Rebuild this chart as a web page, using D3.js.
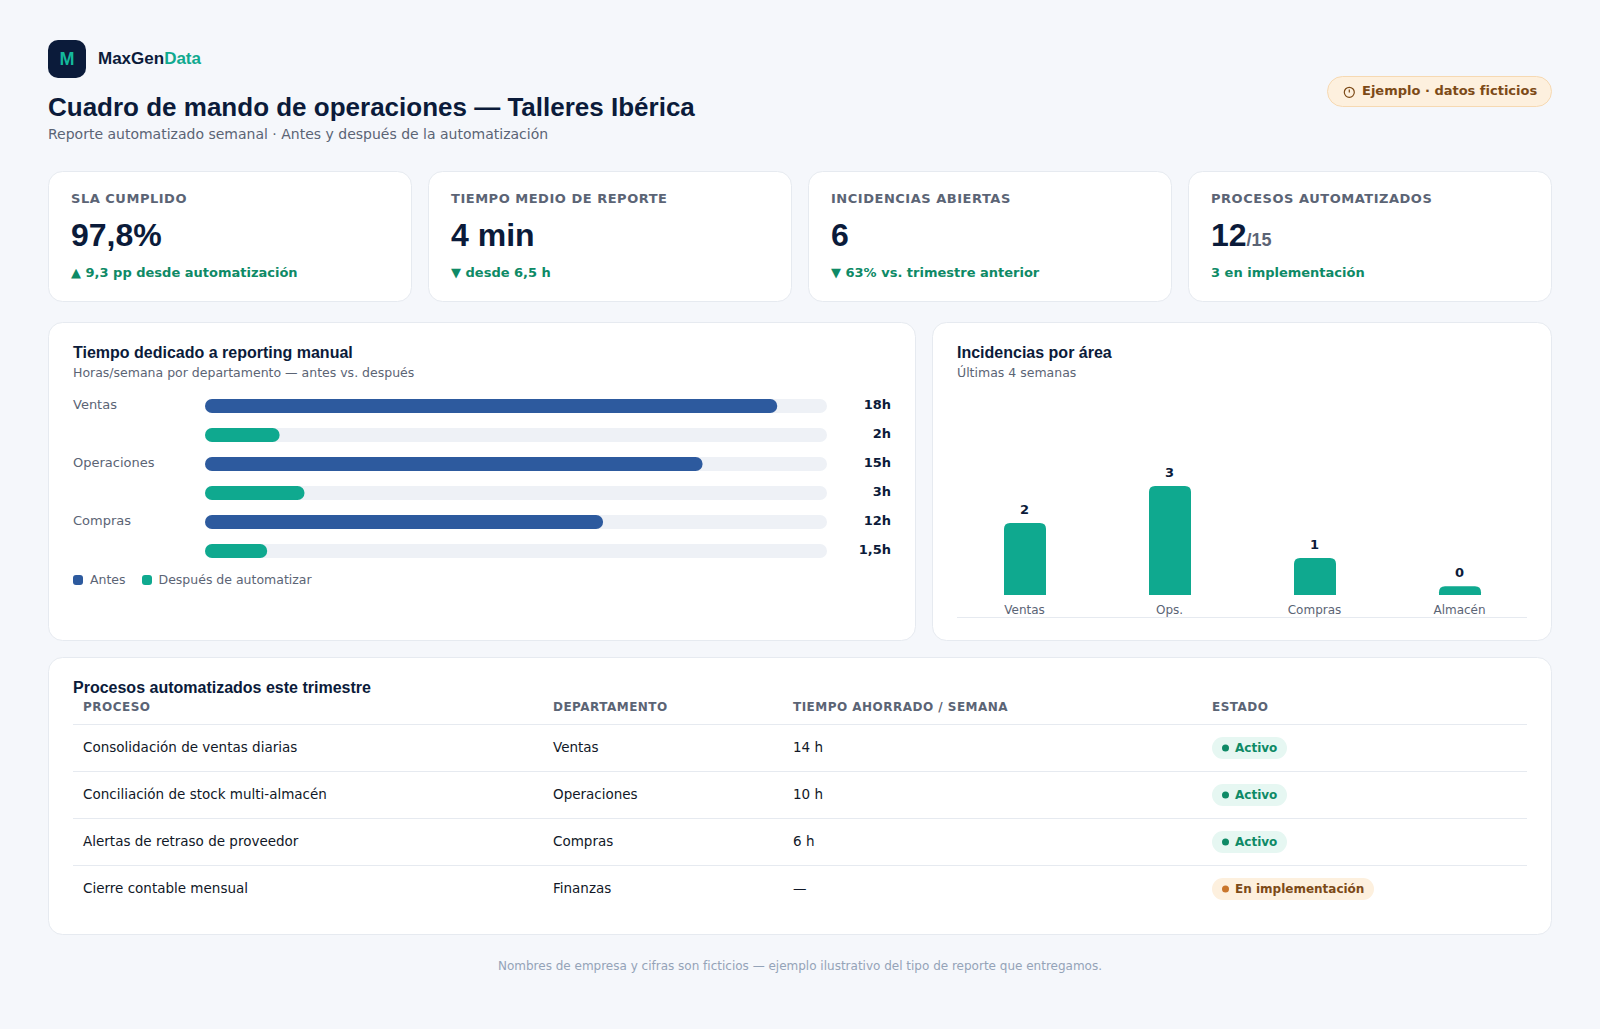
<!DOCTYPE html>
<html lang="es">
<head>
<meta charset="utf-8">
<title>Cuadro de mando de operaciones</title>
<script src="https://cdn.jsdelivr.net/npm/d3@7"></script>
<style>
	html,body{margin:0;padding:0;background:#f5f7fb;}
	svg{display:block;}
	text{font-family:"DejaVu Sans",sans-serif;}
	.arial{font-family:"Liberation Sans",Arial,sans-serif;font-weight:700;}
</style>
</head>
<body>
<div id="page"></div>
<script>
// KPI cards
const kpiLabels=['SLA CUMPLIDO','TIEMPO MEDIO DE REPORTE','INCIDENCIAS ABIERTAS','PROCESOS AUTOMATIZADOS'];
const kpiValues=['97,8%','4 min','6','12'];
const kpiSuffix=['','','','/15'];
const kpiNotes=['▲ 9,3 pp desde automatización','▼ desde 6,5 h','▼ 63% vs. trimestre anterior','3 en implementación'];

// reporting manual: two bars per department
const departments=['Ventas','Operaciones','Compras'];
const hoursLabels=['18h','2h','15h','3h','12h','1,5h'];
const barShare=[92,12,80,16,64,10];
const legendLabels=['Antes','Después de automatizar'];

// incidencias: labels and bar height as % of the tallest
const areas=['Ventas','Ops.','Compras','Almacén'];
const incidents=[2,3,1,0];
const incidentShare=[66,100,34,8];

// tabla
const tableHeaders=['PROCESO','DEPARTAMENTO','TIEMPO AHORRADO / SEMANA','ESTADO'];
const processNames=['Consolidación de ventas diarias','Conciliación de stock multi-almacén','Alertas de retraso de proveedor','Cierre contable mensual'];
const processDepts=['Ventas','Operaciones','Compras','Finanzas'];
const processSaved=['14 h','10 h','6 h','—'];
const processStatus=['Activo','Activo','Activo','En implementación'];

const navy='#0b1b3a', grey='#5b6475', teal='#0fa98f', blue='#2d5a9e', green='#0e8a66', track='#eef1f6', line='#e6eaf0', brown='#7c4a17';

const svg=d3.select('#page').append('svg')
	.attr('width',1600)
	.attr('height',1029)

function label(x,y,txt,size,fill,weight,anchor,spacing){
	return svg.append('text')
		.attr('x',x)
		.attr('y',y)
		.attr('font-size',size)
		.attr('font-weight',weight||400)
		.attr('fill',fill)
		.attr('text-anchor',anchor||'start')
		.attr('letter-spacing',spacing||null)
		.text(txt)
}

function card(x,y,w,h){
	svg.append('rect')
		.attr('x',x+0.5)
		.attr('y',y+0.5)
		.attr('width',w-1)
		.attr('height',h-1)
		.attr('rx',14)
		.attr('fill','#fff')
		.attr('stroke',line)
}

// header
svg.append('rect').attr('x',48).attr('y',40).attr('width',38).attr('height',38).attr('rx',10).attr('fill',navy)
label(67,65,'M',18,'#14b89c').classed('arial',true).attr('text-anchor','middle')
const brand=label(98,64,'MaxGen',17,navy).classed('arial',true)
brand.append('tspan').attr('fill',teal).text('Data')
label(48,116,'Cuadro de mando de operaciones — Talleres Ibérica',26,navy).classed('arial',true)
label(48,139,'Reporte automatizado semanal · Antes y después de la automatización',14,grey)

// badge
svg.append('rect').attr('x',1327.5).attr('y',76.5).attr('width',224).attr('height',30).attr('rx',15).attr('fill','#fdf0de').attr('stroke','#f6d9b2')
svg.append('circle').attr('cx',1349.3).attr('cy',92.3).attr('r',5).attr('fill','none').attr('stroke',brown).attr('stroke-width',1.2)
svg.append('line').attr('x1',1349.3).attr('x2',1349.3).attr('y1',89.5).attr('y2',92.5).attr('stroke',brown).attr('stroke-width',1.2)
label(1362,95,'Ejemplo · datos ficticios',13,brown,700)

// kpi cards
const kpiX=d3.scaleBand().domain(d3.range(4)).range([48,1552]).paddingInner(16/380).paddingOuter(0)
kpiLabels.forEach((k,i)=>{
	const x=kpiX(i)
	card(x,171,kpiX.bandwidth(),131)
	label(x+23,203,k,13,grey,700,'start','0.52')
	const v=label(x+23,246,kpiValues[i],32,navy).classed('arial',true)
	if(kpiSuffix[i]) v.append('tspan').attr('font-size',18).attr('fill',grey).text(kpiSuffix[i])
	label(x+23,277,kpiNotes[i],13,green,700)
})

// reporting chart
card(48,322,868,319)
label(73,358,'Tiempo dedicado a reporting manual',16,navy).classed('arial',true)
label(73,377,'Horas/semana por departamento — antes vs. después',12.5,grey)

const barX=d3.scaleLinear().domain([0,100]).range([205,827])
const barY=d3.scaleBand().domain(d3.range(hoursLabels.length)).range([399,558]).paddingInner(15/29).paddingOuter(0)

svg.selectAll('rect.track')
	.data(hoursLabels)
	.enter()
	.append('rect')
	.attr('class','track')
	.attr('x',barX(0))
	.attr('y',(d,i)=>barY(i))
	.attr('width',barX(100)-barX(0))
	.attr('height',barY.bandwidth())
	.attr('rx',7)
	.attr('fill',track)

svg.selectAll('rect.bar')
	.data(barShare)
	.enter()
	.append('rect')
	.attr('class','bar')
	.attr('x',barX(0))
	.attr('y',(d,i)=>barY(i))
	.attr('width',d=>barX(d)-barX(0))
	.attr('height',barY.bandwidth())
	.attr('rx',7)
	.attr('fill',(d,i)=>i%2==0?blue:teal)

departments.forEach((d,i)=>label(73,barY(i*2)+10,d,13,grey))
hoursLabels.forEach((d,i)=>label(891,barY(i)+10,d,13,navy,700,'end'))

// legend
const legendPos=[[73,90],[142,158.5]];
legendLabels.forEach((d,i)=>{
	svg.append('rect').attr('x',legendPos[i][0]).attr('y',575).attr('width',10).attr('height',10).attr('rx',3).attr('fill',i==0?blue:teal)
	label(legendPos[i][1],584,d,12.5,grey)
})

// incidents chart
card(932,322,620,319)
label(957,358,'Incidencias por área',16,navy).classed('arial',true)
label(957,377,'Últimas 4 semanas',12.5,grey)

const colX=d3.scaleBand().domain(areas).range([957.5,1527.5]).paddingInner(10/145).paddingOuter(0)
const colY=d3.scaleLinear().domain([0,100]).range([595,486])
const colW=42

function topRounded(x,y,w,h,r){
	const p=d3.path()
	p.moveTo(x,y+h)
	p.lineTo(x,y+r)
	p.quadraticCurveTo(x,y,x+r,y)
	p.lineTo(x+w-r,y)
	p.quadraticCurveTo(x+w,y,x+w,y+r)
	p.lineTo(x+w,y+h)
	p.closePath()
	return p.toString()
}

svg.selectAll('path.col')
	.data(incidentShare)
	.enter()
	.append('path')
	.attr('class','col')
	.attr('fill',teal)
	.attr('d',(d,i)=>topRounded(colX(areas[i])+colX.bandwidth()/2-colW/2,colY(d),colW,colY(0)-colY(d),6))

svg.selectAll('text.colval')
	.data(incidents)
	.enter()
	.append('text')
	.attr('class','colval')
	.attr('x',(d,i)=>colX(areas[i])+colX.bandwidth()/2-0.5)
	.attr('y',(d,i)=>colY(incidentShare[i])-9)
	.attr('text-anchor','middle')
	.attr('font-size',13)
	.attr('font-weight',700)
	.attr('fill',navy)
	.text(d=>d)

const colAxis=svg.append('g')
	.attr('transform','translate(-0.5,605)')
	.call(d3.axisBottom(colX).tickSize(0).tickPadding(0))
colAxis.select('.domain').remove()
colAxis.selectAll('text').attr('font-size',12).attr('fill',grey).attr('font-family','"DejaVu Sans"')
svg.append('line').attr('x1',957).attr('x2',1527).attr('y1',617.5).attr('y2',617.5).attr('stroke',line)

// table
card(48,657,1504,278)
label(73,693,'Procesos automatizados este trimestre',16,navy).classed('arial',true)
const colsX=[83,553,793,1212]
tableHeaders.forEach((d,i)=>label(colsX[i],711,d,12,grey,700,'start','0.48'))
svg.append('line').attr('x1',73).attr('x2',1527).attr('y1',724.5).attr('y2',724.5).attr('stroke',line)

const statusStyle={
	'Activo':{bg:'#e6f7f2',fg:green,dot:green,w:75},
	'En implementación':{bg:'#fdf0de',fg:brown,dot:'#c9762c',w:162}
}
processNames.forEach((d,i)=>{
	const y=724+i*47
	label(colsX[0],y+28,d,13.5,'#111827')
	label(colsX[1],y+28,processDepts[i],13.5,'#111827')
	label(colsX[2],y+28,processSaved[i],13.5,'#111827')
	const s=statusStyle[processStatus[i]]
	svg.append('rect').attr('x',colsX[3]).attr('y',y+13).attr('width',s.w).attr('height',22).attr('rx',11).attr('fill',s.bg)
	svg.append('circle').attr('cx',colsX[3]+13.5).attr('cy',y+24).attr('r',3.5).attr('fill',s.dot)
	label(colsX[3]+23,y+28,processStatus[i],12,s.fg,700)
	if(i<3) svg.append('line').attr('x1',73).attr('x2',1527).attr('y1',y+47.5).attr('y2',y+47.5).attr('stroke',line)
})

// footer
label(800,970,'Nombres de empresa y cifras son ficticios — ejemplo ilustrativo del tipo de reporte que entregamos.',12,'#94a3b8',400,'middle')
</script>
</body>
</html>
